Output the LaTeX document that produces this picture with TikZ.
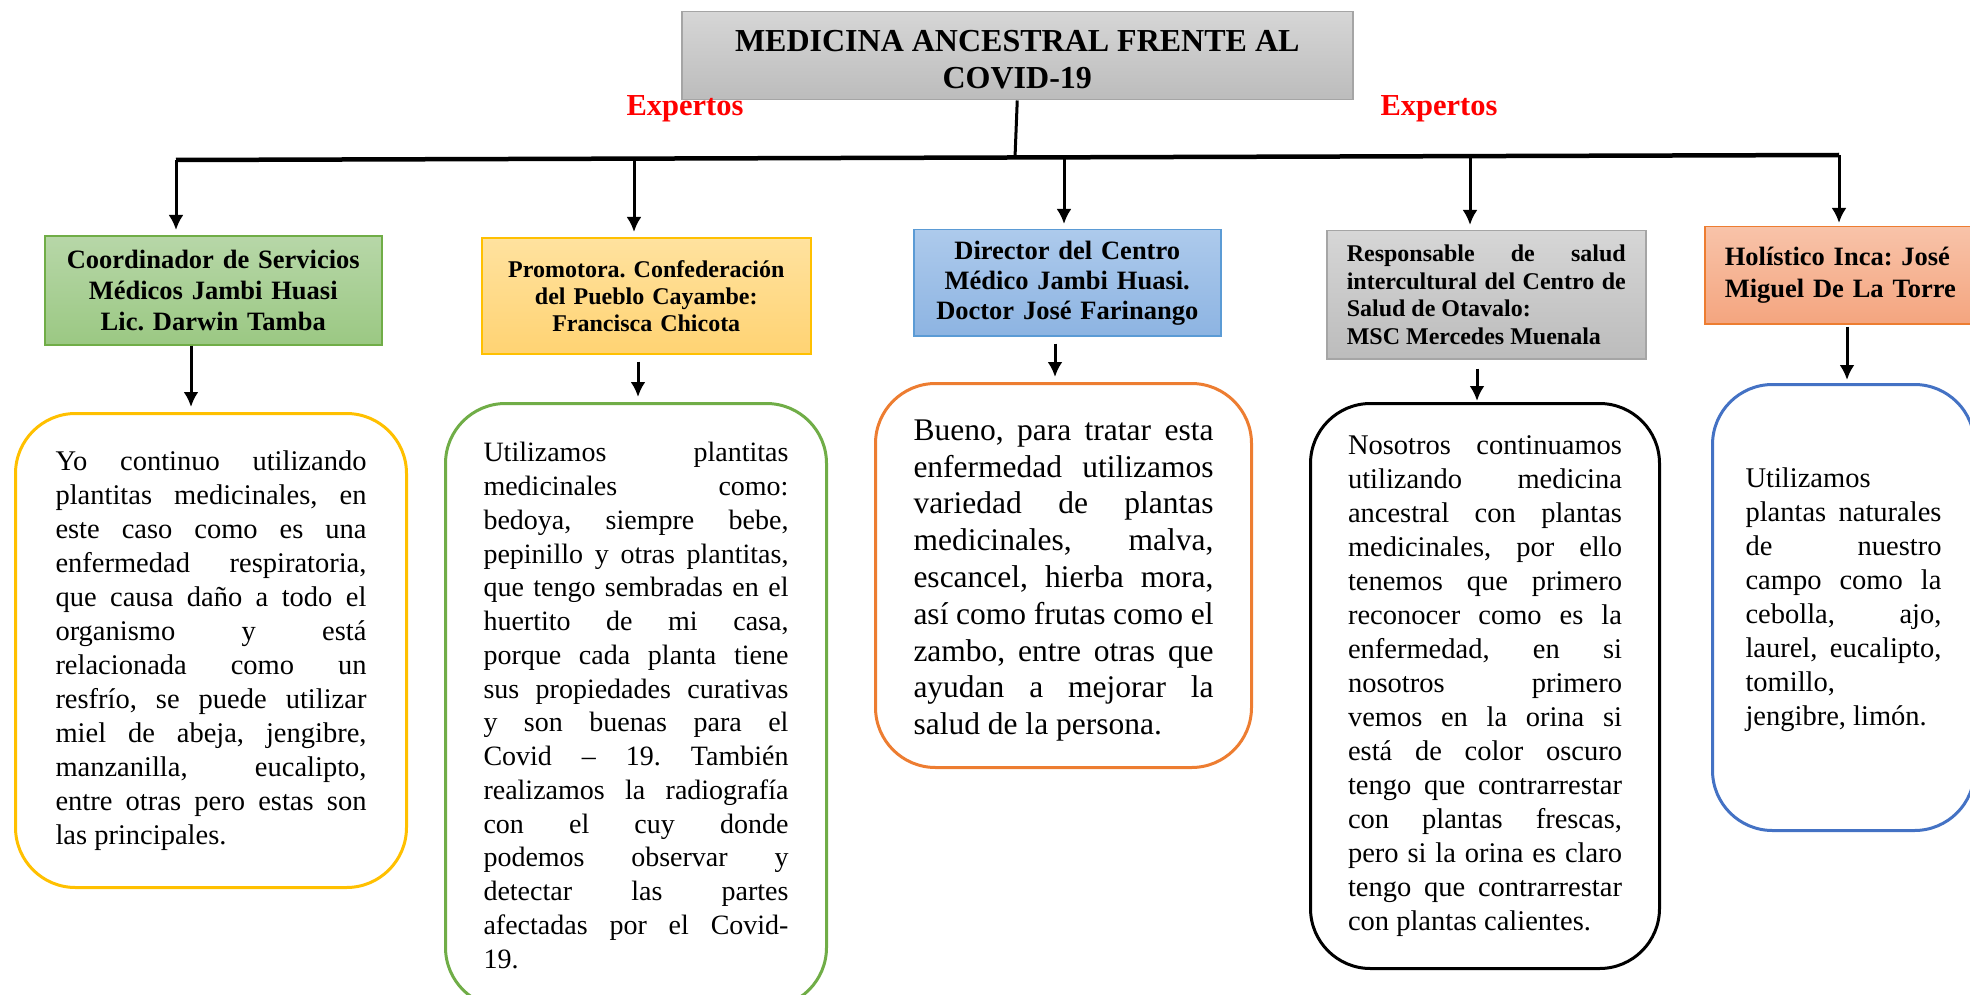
\documentclass[tikz,border=0pt]{standalone}
\usepackage{fontspec}
\setmainfont{Liberation Serif}
\usetikzlibrary{arrows.meta}

\tolerance=10000
\hyphenpenalty=10000
\frenchspacing

\definecolor{greytop}{HTML}{D6D6D6}
\definecolor{greybot}{HTML}{BCBCBC}
\definecolor{greyline}{HTML}{A5A5A5}
\definecolor{greentop}{HTML}{B7D7A8}
\definecolor{greenbot}{HTML}{9BC883}
\definecolor{greenline}{HTML}{70AD47}
\definecolor{yellowtop}{HTML}{FFE29F}
\definecolor{yellowbot}{HTML}{FFD373}
\definecolor{goldline}{HTML}{FFC000}
\definecolor{bluetop}{HTML}{ADCAEC}
\definecolor{bluebot}{HTML}{8DB4E2}
\definecolor{blueline}{HTML}{5B9BD5}
\definecolor{salmontop}{HTML}{F8C3A9}
\definecolor{salmonbot}{HTML}{F4A57F}
\definecolor{orangeline}{HTML}{ED7D31}
\definecolor{darkblueline}{HTML}{4472C4}

\begin{document}
\begin{tikzpicture}[x=1pt, y=-1pt,
    head/.style={draw, line width=1.5pt, anchor=north west, inner sep=0pt},
    card/.style={draw, line width=3pt, rounded corners=60pt, fill=white,
        anchor=north west, inner ysep=0pt, align=justify,
        font=\fontsize{28.5}{34}\selectfont},
    arr/.style={line width=3pt, -{Latex[length=15pt,width=15pt]}},
    bar/.style={line width=4.5pt},
    expert/.style={text=red, font=\bfseries\fontsize{30.5}{36}\selectfont}
]
    \useasboundingbox (0,0) rectangle (1970,995);

    % title
    \node[head, top color=greytop, bottom color=greybot, draw=greyline,
        minimum width=671pt, minimum height=88pt, align=center,
        font=\bfseries\fontsize{32}{37}\selectfont] (title) at (681,11)
        {\vphantom{Ag}\\[-30pt]MEDICINA ANCESTRAL FRENTE AL\\COVID-19};
    \node[expert] (e1) at (685,109) {Expertos};
    \node[expert] (e2) at (1439,109) {Expertos};

    % bar
    \coordinate (b1) at (176,160);
    \coordinate (b2) at (634,158.6);
    \coordinate (top) at (1015,157.5);
    \coordinate (b3) at (1064,157.3);
    \coordinate (b4) at (1470,156.1);
    \coordinate (b5) at (1839,155);

    % experts
    \node[head, top color=greentop, bottom color=greenbot, draw=greenline,
        minimum width=337pt, minimum height=109pt, text width=320pt, align=center,
        font=\bfseries\fontsize{26.5}{30.8}\selectfont] (h1) at (44,235)
        {Coordinador de Servicios\\Médicos Jambi Huasi\\Lic. Darwin Tamba};
    \node[head, top color=yellowtop, bottom color=yellowbot, draw=goldline,
        minimum width=329pt, minimum height=116pt, text width=310pt, align=center,
        font=\bfseries\fontsize{24}{27}\selectfont] (h2) at (481,237)
        {Promotora. Confederación\\del Pueblo Cayambe:\\Francisca Chicota};
    \node[head, top color=bluetop, bottom color=bluebot, draw=blueline,
        minimum width=307pt, minimum height=106pt, text width=290pt, align=center,
        font=\bfseries\fontsize{26.5}{30}\selectfont] (h3) at (913,229)
        {Director del Centro\\Médico Jambi Huasi.\\Doctor José Farinango};
    \node[head, top color=greytop, bottom color=greybot, draw=greyline,
        minimum width=319pt, minimum height=128pt, text width=279pt, align=justify,
        font=\bfseries\fontsize{24}{27.6}\selectfont] (h4) at (1326,230)
        {Responsable de salud \linebreak intercultural del Centro de \linebreak
        Salud de Otavalo:\newline MSC Mercedes Muenala};
    \node[head, top color=salmontop, bottom color=salmonbot, draw=orangeline,
        minimum height=97pt, text width=251pt, inner xsep=20pt, align=left,
        font=\bfseries\fontsize{26.5}{31.4}\selectfont] (h5) at (1704,226)
        {Holístico Inca: José\\Miguel De La Torre\\[10pt]};

    % answers
    \node[card, draw=goldline, text width=311pt, inner xsep=40pt,
        minimum height=474pt] (p1) at (14,412)
        {Yo continuo utilizando \linebreak plantitas medicinales, en \linebreak
        este caso como es una \linebreak enfermedad respiratoria, \linebreak
        que causa daño a todo el \linebreak organismo y está \linebreak
        relacionada como un \linebreak resfrío, se puede utilizar \linebreak
        miel de abeja, jengibre, \linebreak manzanilla, eucalipto, \linebreak
        entre otras pero estas son \linebreak las principales.};
    \node[card, draw=greenline, text width=305pt, inner xsep=38pt,
        minimum height=604pt, font=\fontsize{28}{33.75}\selectfont] (p2) at (444,402)
        {Utilizamos plantitas \linebreak medicinales como: \linebreak
        bedoya, siempre bebe, \linebreak pepinillo y otras plantitas, \linebreak
        que tengo sembradas en el \linebreak huertito de mi casa, \linebreak
        porque cada planta tiene \linebreak sus propiedades curativas \linebreak
        y son buenas para el \linebreak Covid – 19. También \linebreak
        realizamos la radiografía \linebreak con el cuy donde \linebreak
        podemos observar y \linebreak detectar las partes \linebreak
        afectadas por el Covid-\linebreak 19.};
    \node[card, draw=orangeline, text width=300pt, inner xsep=38pt,
        minimum height=384pt, font=\fontsize{31.5}{36.8}\selectfont] (p3) at (874,382)
        {Bueno, para tratar esta \linebreak enfermedad utilizamos \linebreak
        variedad de plantas \linebreak medicinales, malva, \linebreak
        escancel, hierba mora, \linebreak así como frutas como el \linebreak
        zambo, entre otras que \linebreak ayudan a mejorar la \linebreak
        salud de la persona.\par\kern-10pt};
    \node[card, draw=black, text width=274pt, inner xsep=37.5pt,
        minimum height=565pt] (p4) at (1309,402)
        {Nosotros continuamos \linebreak utilizando medicina \linebreak
        ancestral con plantas \linebreak medicinales, por ello \linebreak
        tenemos que primero \linebreak reconocer como es la \linebreak
        enfermedad, en si \linebreak nosotros primero \linebreak
        vemos en la orina si \linebreak está de color oscuro \linebreak
        tengo que contrarrestar \linebreak con plantas frescas, \linebreak
        pero si la orina es claro \linebreak tengo que contrarrestar \linebreak
        con plantas calientes.};
    \node[card, draw=darkblueline, text width=196pt, inner xsep=33pt,
        minimum height=446pt] (p5) at (1711,383)
        {Utilizamos\newline plantas naturales \linebreak de nuestro \linebreak
        campo como la \linebreak cebolla, ajo, \linebreak
        laurel, eucalipto, \linebreak tomillo,\newline jengibre, limón.\par
        \kern16pt};

    % columns of the lower arrows
    \coordinate (c1) at (191,0);
    \coordinate (c2) at (638,0);
    \coordinate (c3) at (1055,0);
    \coordinate (c4) at (1477,0);
    \coordinate (c5) at (1847,0);

    \draw[line width=3pt] (title.south) -- (top);
    \draw[bar] (b1) -- (b5);
    \draw[arr, shorten >=5pt] (b1) -- (b1 |- h1.north);
    \draw[arr, shorten >=5pt] (b2) -- (b2 |- h2.north);
    \draw[arr, shorten >=5pt] (b3) -- (b3 |- h3.north);
    \draw[arr, shorten >=5pt] (b4) -- (b4 |- h4.north);
    \draw[arr, shorten >=3pt] (b5) -- (b5 |- h5.north);
    \draw[arr, shorten >=5pt] (h1.south -| c1) -- (p1.north -| c1);
    \draw[arr, shorten <=7pt, shorten >=5pt] (h2.south -| c2) -- (p2.north -| c2);
    \draw[arr, shorten <=7pt, shorten >=5pt] (h3.south -| c3) -- (p3.north -| c3);
    \draw[arr, shorten <=9pt, shorten >=1pt] (h4.south -| c4) -- (p4.north -| c4);
    \draw[arr, shorten <=2pt, shorten >=3pt] (h5.south -| c5) -- (p5.north -| c5);
\end{tikzpicture}
\end{document}
